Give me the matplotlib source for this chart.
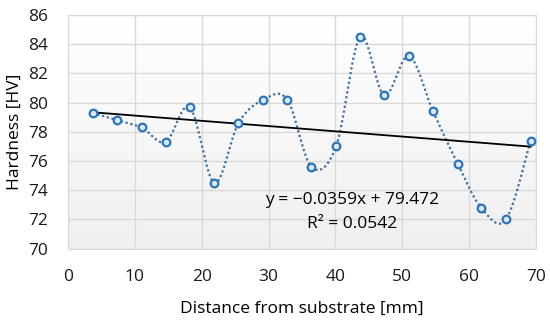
import numpy as np
import matplotlib
matplotlib.use("Agg")
import matplotlib.pyplot as plt

distance = [3.7, 7.3, 11.0, 14.6, 18.2, 21.9, 25.5, 29.2, 32.8, 36.4,
            40.1, 43.7, 47.3, 51.0, 54.6, 58.3, 61.8, 65.5, 69.2]
hardness = [79.3, 78.8, 78.3, 77.3, 79.7, 74.5, 78.6, 80.2, 80.2, 75.6,
            77.0, 84.5, 80.5, 83.2, 79.4, 75.8, 72.8, 72.0, 77.4]

slope = -0.0359
intercept = 79.472
eq_text = "y = \u22120.0359x + 79.472"
r2_text = "R\u00b2 = 0.0542"

x_ticks = [0, 10, 20, 30, 40, 50, 60, 70]
y_ticks = [70, 72, 74, 76, 78, 80, 82, 84, 86]


# Excel-like smoothed line: cubic bezier with catmull-rom control points
def smooth_path(xs, ys, n=30):
    p = np.column_stack([xs, ys])
    out = []
    for i in range(len(p) - 1):
        p0 = p[i - 1] if i > 0 else p[i]
        p1 = p[i]
        p2 = p[i + 1]
        p3 = p[i + 2] if i + 2 < len(p) else p[i + 1]
        c1 = p1 + (p2 - p0) / 6
        c2 = p2 - (p3 - p1) / 6
        t = np.linspace(0, 1, n)[:, None]
        seg = ((1 - t) ** 3) * p1 + 3 * ((1 - t) ** 2) * t * c1 + 3 * (1 - t) * t ** 2 * c2 + t ** 3 * p2
        out.append(seg if i == 0 else seg[1:])
    s = np.vstack(out)
    return s[:, 0], s[:, 1]


def main():
    plt.rcParams['font.family'] = ['Open Sans', 'DejaVu Sans']
    fig = plt.figure(figsize=(5.5, 3.2), dpi=100)
    ax = fig.add_axes([0.1236, 0.223, 0.851, 0.730])

    # light gradient in the plot area (white at top, pale grey at bottom)
    g = np.linspace(1.0, 0.94, 256)[:, None, None] * np.ones((1, 1, 3))
    ax.imshow(g, extent=[0, 1, 0, 1], transform=ax.transAxes,
              aspect="auto", zorder=0, origin="upper")

    ax.set_xlim(0, 70)
    ax.set_ylim(70, 86)
    ax.set_xticks(x_ticks)
    ax.set_yticks(y_ticks)
    ax.grid(True, color="#d9d9d9", linewidth=1.0, zorder=1)
    for s in ax.spines.values():
        s.set_color("#d9d9d9")
    ax.tick_params(length=0, labelsize=12.5, colors="#1a1a1a")
    ax.tick_params(axis="y", pad=14)
    ax.tick_params(axis="x", pad=15)

    sx, sy = smooth_path(distance, hardness)
    ax.plot(sx, sy, color="#3f6f9f", linestyle=(0, (1, 1.2)), linewidth=1.6, zorder=3)

    tx = np.array([distance[0], distance[-1]])
    ax.plot(tx, slope * tx + intercept, color="black", linewidth=1.3, zorder=4)

    ax.plot(distance, hardness, linestyle="none", marker="o", markersize=5.5,
            markerfacecolor="#dbe9f7", markeredgecolor="#2e75b6", markeredgewidth=1.6, zorder=5)

    ax.text(42.5, 73.33, eq_text, ha="center", va="center", fontsize=12.5, zorder=6)
    ax.text(42.5, 71.68, r2_text, ha="center", va="center", fontsize=12.5, zorder=6)

    ax.set_xlabel("Distance from substrate [mm]", fontsize=12.5, labelpad=11)
    ax.set_ylabel("Hardness [HV]", fontsize=12.5, labelpad=4)

    fig.savefig("out.png", dpi=100)


if __name__ == "__main__":
    main()
